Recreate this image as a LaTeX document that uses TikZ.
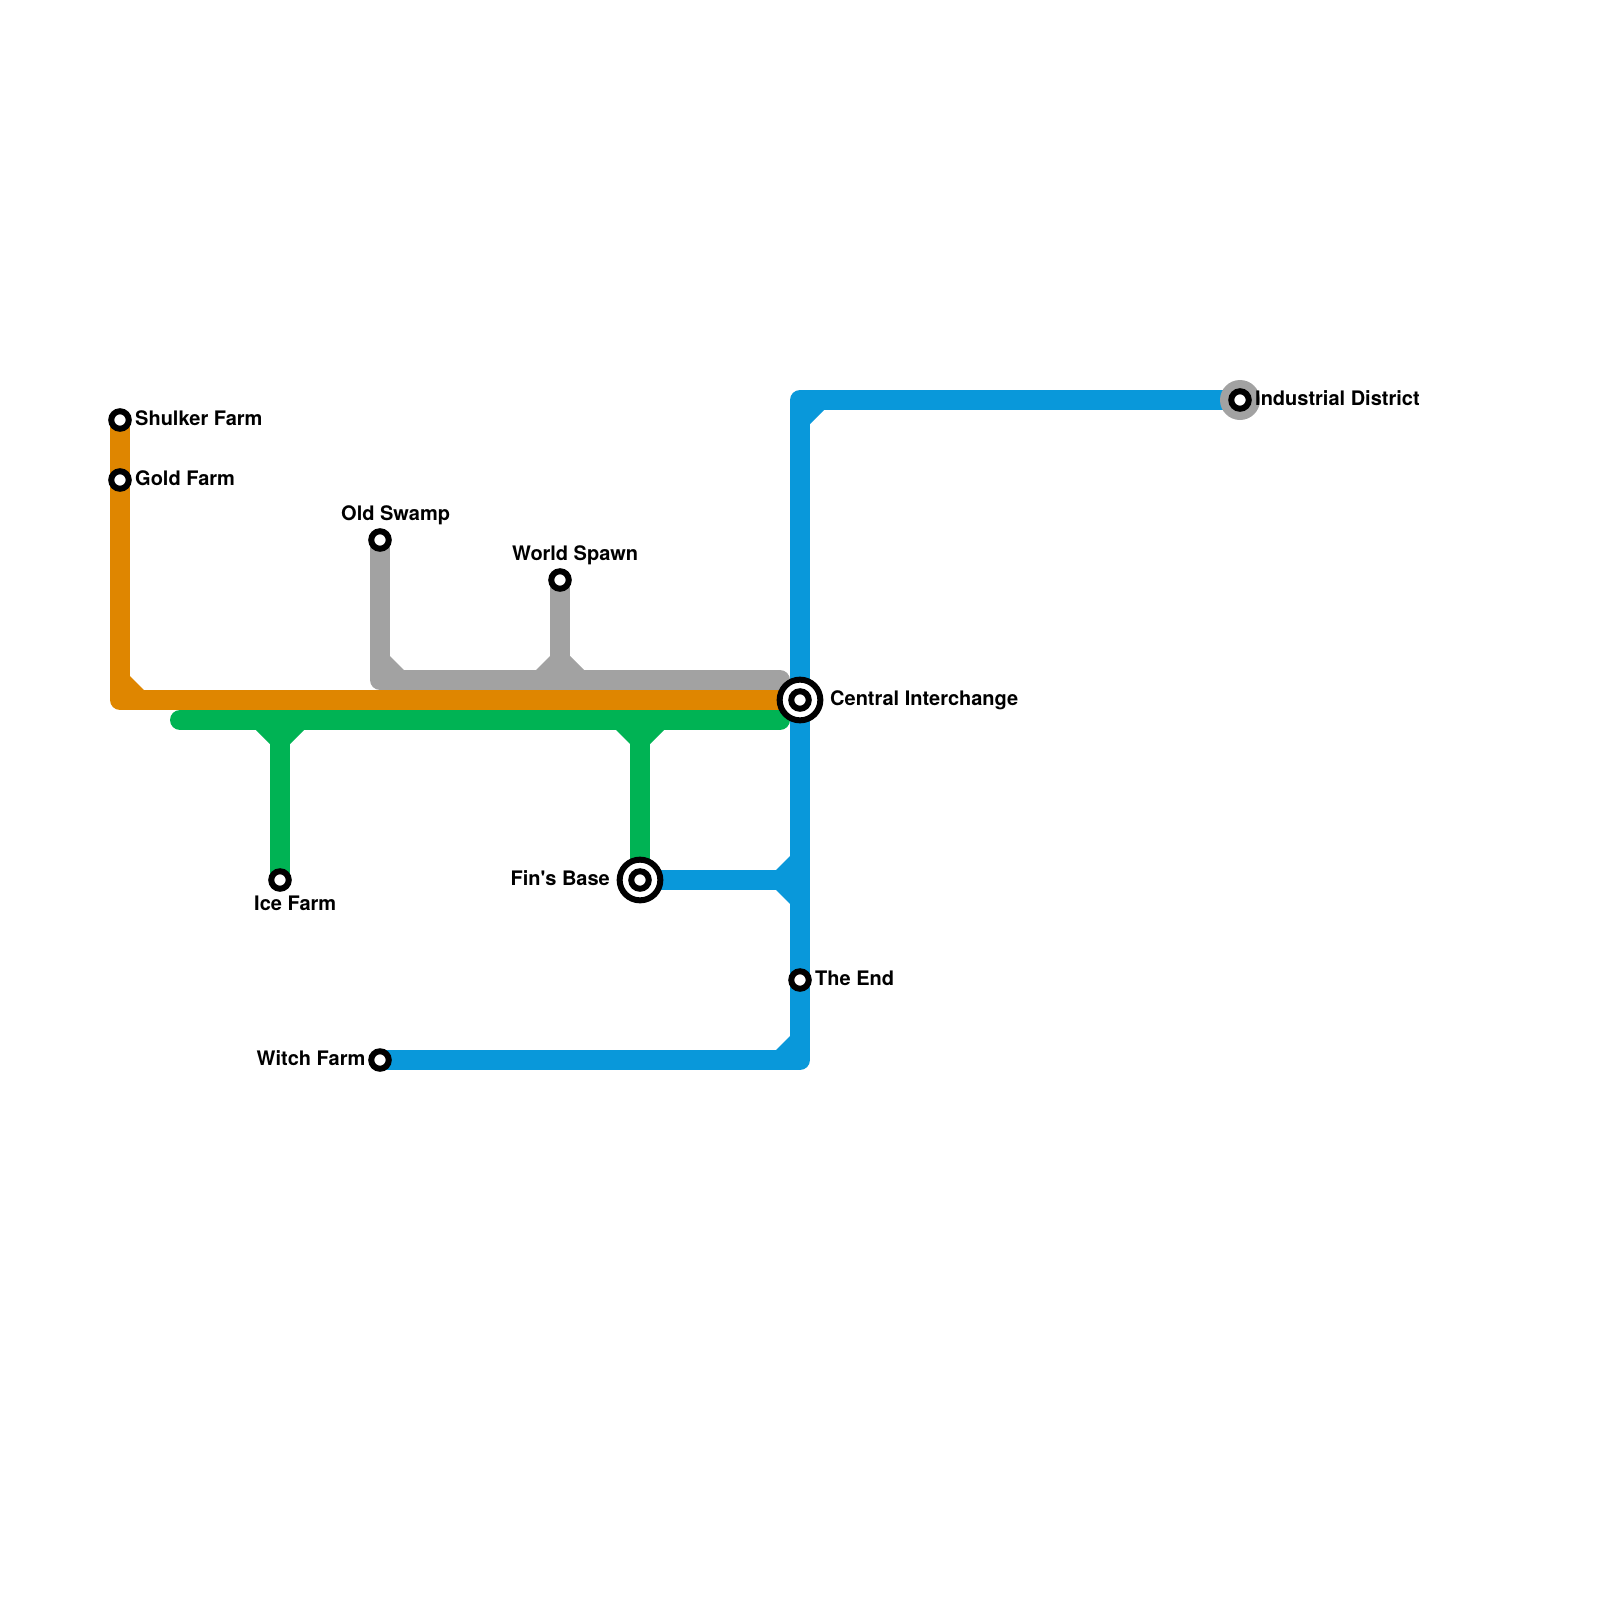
\documentclass[tikz,border=0pt]{standalone}
\usepackage{fontspec}
\newfontfamily\stopfont{TeX Gyre Heros}
\definecolor{lineorange}{RGB}{223,134,0}
\definecolor{linegrey}{RGB}{162,162,162}
\definecolor{linegreen}{RGB}{0,179,84}
\definecolor{lineblue}{RGB}{9,152,218}
\usetikzlibrary{
  backgrounds
}

\begin{document}
\begin{tikzpicture}[
  x=1pt, y=-1pt,
  metro line/.style={line width=20pt, line join=round, line cap=round},
  station/.style={circle, draw=black, fill=white, line width=6pt, minimum size=17.5pt, inner sep=0pt},
  interchange/.style={circle, draw=black, fill=white, line width=6pt, minimum size=40.7pt, inner sep=0pt},
  halo/.style={circle, fill=linegrey, minimum size=40pt, inner sep=0pt},
  stop label/.style={font=\fontsize{20}{24}\stopfont\bfseries, inner sep=0pt, anchor=base west},
]
\useasboundingbox (0,0) rectangle (1600,1600);

% Stations
\node[station] (shulker) at (120, 420) {};
\node[station] (gold) at (120, 480) {};
\node[station] (swamp) at (380, 540) {};
\node[station] (spawn) at (560, 580) {};
\node[station] (ice) at (280, 880) {};
\node[station] (witch) at (380, 1060) {};
\node[station] (theend) at (800, 980) {};
\node[interchange] (central) at (800, 700) {};
\node[station] (centralcore) at (800, 700) {};
\node[interchange] (fins) at (640, 880) {};
\node[station] (finscore) at (640, 880) {};
\node[halo] (industrialhalo) at (1240, 400) {};
\node[station] (industrial) at (1240, 400) {};

% Line bends
\coordinate (orangebend) at (120, 700);
\coordinate (greybend) at (380, 680);
\coordinate (greyend) at (780, 680);
\coordinate (greyjoin) at (560, 680);
\coordinate (greenstart) at (180, 720);
\coordinate (greenend) at (780, 720);
\coordinate (icejoin) at (280, 720);
\coordinate (finsjoin) at (640, 720);
\coordinate (bluetop) at (800, 400);
\coordinate (bluebottom) at (800, 1060);
\coordinate (bluejoin) at (800, 880);

\begin{scope}[on background layer]
  % Blue line
  \draw[metro line, lineblue, line cap=butt] (witch.center) -- (bluebottom) -- (bluetop) -- (industrial.center);
  \draw[metro line, lineblue, line cap=butt] (fins.center) -- (bluejoin);
  \fill[lineblue] (810, 410) -- (810, 424) -- (824, 410) -- cycle;
  \fill[lineblue] (790, 1036) -- (776, 1050) -- (790, 1050) -- cycle;
  \fill[lineblue] (790, 856) -- (776, 870) -- (790, 870) -- cycle;
  \fill[lineblue] (790, 890) -- (776, 890) -- (790, 904) -- cycle;

  % Grey line
  \draw[metro line, linegrey] (swamp.center) -- (greybend) -- (greyend);
  \draw[metro line, linegrey] (spawn.center) -- (greyjoin);
  \fill[linegrey] (390, 656) -- (390, 670) -- (404, 670) -- cycle;
  \fill[linegrey] (550, 656) -- (536, 670) -- (550, 670) -- cycle;
  \fill[linegrey] (570, 656) -- (570, 670) -- (584, 670) -- cycle;

  % Green line
  \draw[metro line, linegreen] (greenstart) -- (greenend);
  \draw[metro line, linegreen, line cap=butt] (icejoin) -- (ice.center);
  \draw[metro line, linegreen, line cap=butt] (finsjoin) -- (fins.center);
  \fill[linegreen] (256, 730) -- (270, 744) -- (270, 730) -- cycle;
  \fill[linegreen] (290, 730) -- (290, 744) -- (304, 730) -- cycle;
  \fill[linegreen] (616, 730) -- (630, 744) -- (630, 730) -- cycle;
  \fill[linegreen] (650, 730) -- (650, 744) -- (664, 730) -- cycle;

  % Orange line
  \draw[metro line, lineorange, line cap=butt] (shulker.center) -- (orangebend) -- (central.center);
  \fill[lineorange] (130, 676) -- (130, 690) -- (144, 690) -- cycle;
\end{scope}

% Labels
\node[stop label] (shulkerlabel) at (135, 425.3) {Shulker Farm};
\node[stop label] (goldlabel) at (135, 485.3) {Gold Farm};
\node[stop label] (swamplabel) at (341, 520.3) {Old Swamp};
\node[stop label] (spawnlabel) at (512, 560.3) {World Spawn};
\node[stop label] (icelabel) at (254, 910.3) {Ice Farm};
\node[stop label, anchor=base east] (witchlabel) at (365.5, 1065.3) {Witch Farm};
\node[stop label] (endlabel) at (815, 985.3) {The End};
\node[stop label, anchor=base east] (finslabel) at (610, 885.3) {Fin's Base};
\node[stop label] (centrallabel) at (830, 705.3) {Central Interchange};
\node[stop label] (industriallabel) at (1255, 405.3) {Industrial District};

\end{tikzpicture}
\end{document}
